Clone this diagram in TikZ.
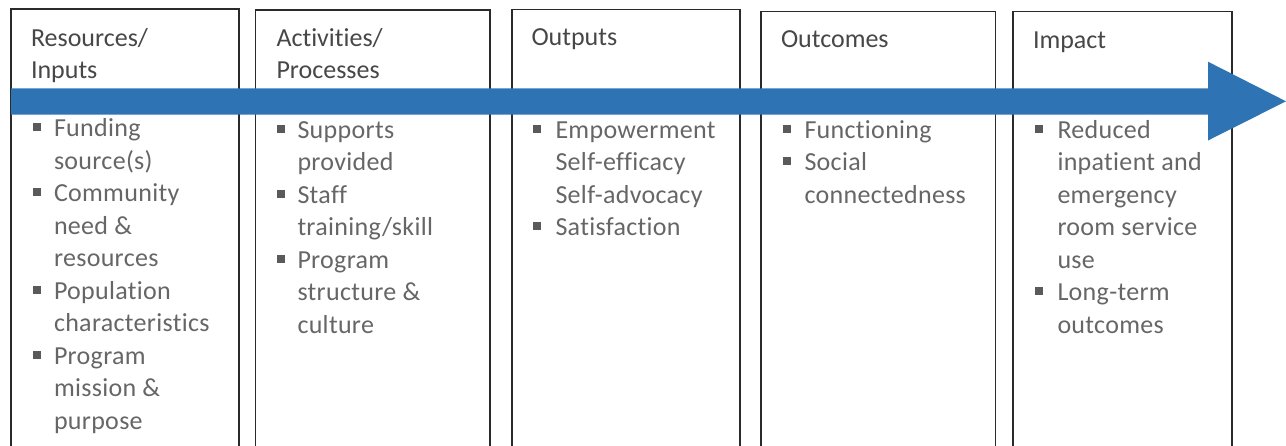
\documentclass[tikz,border=0pt]{standalone}
\usepackage{fontspec}
\setmainfont{Carlito}[Ligatures=CommonOff]
\newfontfamily\bodyfont{Carlito}[LetterSpace=1.2,Ligatures=CommonOff]
\definecolor{boxc}{HTML}{2A2A2A}
\definecolor{arrc}{HTML}{2E74B5}
\definecolor{titlec}{HTML}{474747}
\definecolor{bodyc}{HTML}{666666}
\definecolor{bulc}{HTML}{5A5A5A}
\tikzset{
  colbox/.style={draw=boxc, line width=1.3pt},
  ttl/.style={anchor=base west, inner sep=0pt, outer sep=0pt, text=titlec, font=\fontsize{26}{31.5}\selectfont},
  bod/.style={anchor=base west, inner sep=0pt, outer sep=0pt, text=bodyc, font=\bodyfont\fontsize{26}{32.5}\selectfont},
  bul/.style={fill=bulc, draw=none, minimum size=8pt, inner sep=0pt, outer sep=0pt, anchor=south west}
}
\begin{document}
\begin{tikzpicture}[x=1pt,y=-1pt]
\useasboundingbox (0,0) rectangle (1286,445);
% column boxes (open at the bottom)
\draw[colbox] (11,460) -- (11,9) -- (239,9) -- (239,460);
\draw[colbox] (255.5,460) -- (255.5,10) -- (490,10) -- (490,460);
\draw[colbox] (512,460) -- (512,9.3) -- (740,9.3) -- (740,460);
\draw[colbox] (761,460) -- (761,11.7) -- (995.5,11.7) -- (995.5,460);
\draw[colbox] (1013,460) -- (1013,11.7) -- (1232,11.7) -- (1232,460);
% big arrow
\fill[arrc] (11,88.3) -- (1208,88.3) -- (1208,61.7) -- (1286,101.3) -- (1208,140.5) -- (1208,114.7) -- (11,114.7) -- cycle;
% titles
\node[ttl] (t1a) at (31,46.5) {Resources/};
\node[ttl] (t1b) at (31,78) {Inputs};
\node[ttl] (t2a) at (276.5,46.5) {Activities/};
\node[ttl] (t2b) at (276.5,78) {Processes};
\node[ttl] (t3) at (531.5,45.5) {Outputs};
\node[ttl] (t4) at (781,47) {Outcomes};
\node[ttl] (t5) at (1033,48) {Impact};
% column 1
\node[bul] (b1a) at (33,131) {};
\node[bod] (c1a) at (54,136.5) {Funding};
\node[bod] (c1b) at (54,169) {source(s)};
\node[bul] (b1b) at (33,196) {};
\node[bod] (c1c) at (54,201.5) {Community};
\node[bod] (c1d) at (54,234) {need \&};
\node[bod] (c1e) at (54,266.5) {resources};
\node[bul] (b1c) at (33,293.5) {};
\node[bod] (c1f) at (54,299) {Population};
\node[bod] (c1g) at (54,331.5) {characteristics};
\node[bul] (b1d) at (33,358.5) {};
\node[bod] (c1h) at (54,364) {Program};
\node[bod] (c1i) at (54,396.5) {mission \&};
\node[bod] (c1j) at (54,429) {purpose};
% column 2
\node[bul] (b2a) at (276.5,132.5) {};
\node[bod] (c2a) at (297.5,138) {Supports};
\node[bod] (c2b) at (297.5,170.5) {provided};
\node[bul] (b2b) at (276.5,197.5) {};
\node[bod] (c2c) at (297.5,203) {Staff};
\node[bod] (c2d) at (297.5,235.5) {training/skill};
\node[bul] (b2c) at (276.5,262.5) {};
\node[bod] (c2e) at (297.5,268) {Program};
\node[bod] (c2f) at (297.5,300.5) {structure \&};
\node[bod] (c2g) at (297.5,333) {culture};
% column 3
\node[bul] (b3a) at (533,132.5) {};
\node[bod] (c3a) at (555.5,138) {Empowerment};
\node[bod] (c3b) at (555.5,170.5) {Self-efficacy};
\node[bod] (c3c) at (555.5,203) {Self-advocacy};
\node[bul] (b3b) at (533,230) {};
\node[bod] (c3d) at (555.5,235.5) {Satisfaction};
% column 4
\node[bul] (b4a) at (783,132.5) {};
\node[bod] (c4a) at (804.5,138) {Functioning};
\node[bul] (b4b) at (783,165) {};
\node[bod] (c4b) at (804.5,170.5) {Social};
\node[bod] (c4c) at (804.5,203) {connectedness};
% column 5
\node[bul] (b5a) at (1035,132.5) {};
\node[bod] (c5a) at (1057.5,138) {Reduced};
\node[bod] (c5b) at (1057.5,170.5) {inpatient and};
\node[bod] (c5c) at (1057.5,203) {emergency};
\node[bod] (c5d) at (1057.5,235.5) {room service};
\node[bod] (c5e) at (1057.5,268) {use};
\node[bul] (b5b) at (1035,295) {};
\node[bod] (c5f) at (1057.5,300.5) {Long-term};
\node[bod] (c5g) at (1057.5,333) {outcomes};
\end{tikzpicture}
\end{document}
